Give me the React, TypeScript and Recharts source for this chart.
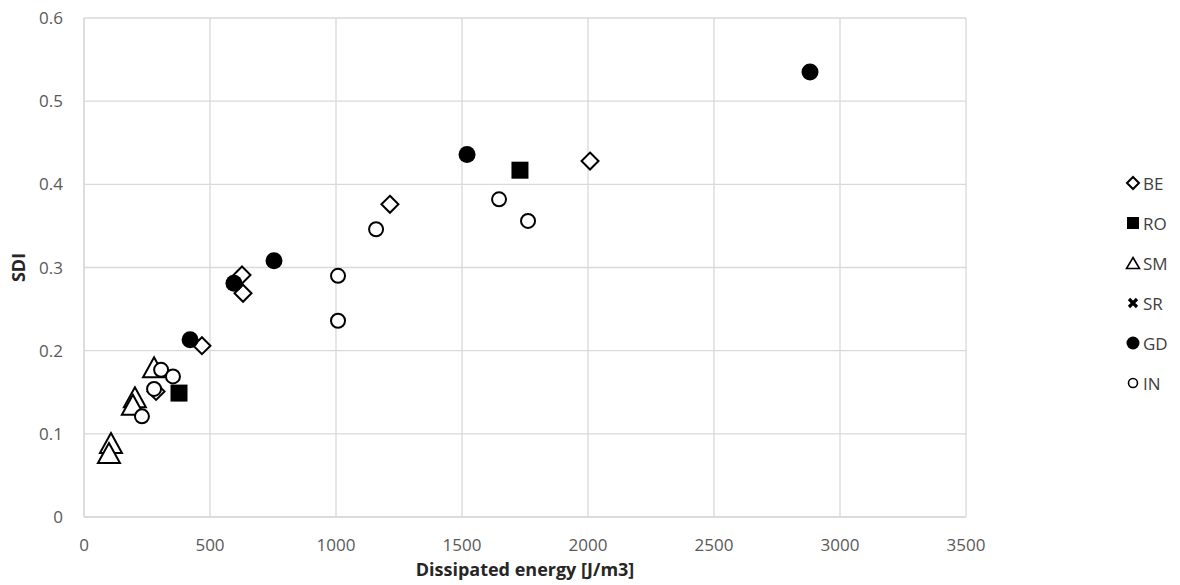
import React from 'react';
import {
  ScatterChart, Scatter, XAxis, YAxis, CartesianGrid, Legend, Label,
} from 'recharts';

// Series values (x = dissipated energy, y = SDI)
const BE = [
  { x: 286, y: 0.151 }, { x: 468, y: 0.206 }, { x: 627, y: 0.291 },
  { x: 631, y: 0.269 }, { x: 1214, y: 0.376 }, { x: 2008, y: 0.428 },
];
const RO = [{ x: 377, y: 0.149 }, { x: 1730, y: 0.417 }];
const SM = [
  { x: 278, y: 0.18 }, { x: 202, y: 0.144 }, { x: 194, y: 0.135 },
  { x: 107, y: 0.089 }, { x: 99, y: 0.077 },
];
const SR: { x: number; y: number }[] = [];
const GD = [
  { x: 421, y: 0.213 }, { x: 595, y: 0.281 }, { x: 754, y: 0.308 },
  { x: 1520, y: 0.436 }, { x: 2881, y: 0.535 },
];
const IN = [
  { x: 230, y: 0.121 }, { x: 278, y: 0.154 }, { x: 306, y: 0.177 },
  { x: 353, y: 0.169 }, { x: 1008, y: 0.236 }, { x: 1008, y: 0.29 },
  { x: 1159, y: 0.346 }, { x: 1647, y: 0.382 }, { x: 1762, y: 0.356 },
];

const X_TICKS = [0, 500, 1000, 1500, 2000, 2500, 3000, 3500];
const Y_TICKS = [0, 0.1, 0.2, 0.3, 0.4, 0.5, 0.6];
const SERIES_NAMES = ['BE', 'RO', 'SM', 'SR', 'GD', 'IN'];

const FONT = '"Open Sans", "Noto Sans", sans-serif';
const TEXT = '#595959';
const TITLE = '#262626';
const GRID = '#d9d9d9';

const diamond = (cx: number, cy: number, r: number, sw = 2) => (
  <path d={`M${cx},${cy - r}L${cx + r},${cy}L${cx},${cy + r}L${cx - r},${cy}Z`}
    fill="#fff" stroke="#000" strokeWidth={sw} />
);
const square = (cx: number, cy: number, s: number) => (
  <rect x={cx - s / 2} y={cy - s / 2} width={s} height={s} fill="#000" />
);
const triangle = (cx: number, cy: number, w: number, h: number, sw = 2) => (
  <path d={`M${cx},${cy - h / 2}L${cx + w / 2},${cy + h / 2}L${cx - w / 2},${cy + h / 2}Z`}
    fill="#fff" stroke="#000" strokeWidth={sw} strokeLinejoin="miter" />
);
const cross = (cx: number, cy: number, r: number) => (
  <path d={`M${cx - r},${cy - r}L${cx + r},${cy + r}M${cx + r},${cy - r}L${cx - r},${cy + r}`}
    stroke="#000" strokeWidth={3.2} />
);
const dot = (cx: number, cy: number, r: number) => <circle cx={cx} cy={cy} r={r} fill="#000" />;
const ring = (cx: number, cy: number, r: number, sw = 2) => (
  <circle cx={cx} cy={cy} r={r} fill="#fff" stroke="#000" strokeWidth={sw} />
);

const SHAPES: Record<string, (cx: number, cy: number) => React.ReactElement> = {
  BE: (cx, cy) => diamond(cx, cy, 8.5),
  RO: (cx, cy) => square(cx, cy, 17),
  SM: (cx, cy) => triangle(cx, cy, 22, 20),
  SR: (cx, cy) => cross(cx, cy, 5),
  GD: (cx, cy) => dot(cx, cy, 8.5),
  IN: (cx, cy) => ring(cx, cy, 7),
};

const LEGEND_ICONS: Record<string, React.ReactElement> = {
  BE: diamond(9, 10, 6, 2),
  RO: square(9, 10, 12),
  SM: triangle(9, 10, 13, 11, 1.6),
  SR: cross(9, 10, 4),
  GD: dot(9, 10, 6.5),
  IN: ring(9, 10, 4.5, 1.6),
};

const renderLegend = () => (
  <div style={{ fontFamily: FONT, fontSize: 17, color: '#404040' }}>
    {SERIES_NAMES.map((name) => (
      <div key={name} style={{ height: 40, display: 'flex', alignItems: 'center' }}>
        <svg width={18} height={20}>{LEGEND_ICONS[name]}</svg>
        <span style={{ marginLeft: 1 }}>{name}</span>
      </div>
    ))}
  </div>
);

const seriesData: Record<string, { x: number; y: number }[]> = { BE, RO, SM, SR, GD, IN };

export default function App() {
  return (
    <div style={{ position: 'absolute', left: 0, top: 0, width: 1180, height: 585, background: '#fff' }}>
      <ScatterChart width={1180} height={585} margin={{ top: 18, right: 214, bottom: 0, left: 0 }}>
        <CartesianGrid stroke={GRID} strokeWidth={1.3} />
        <XAxis
          type="number"
          dataKey="x"
          domain={[0, 3500]}
          ticks={X_TICKS}
          height={68}
          tickLine={false}
          tickSize={0}
          tickMargin={22}
          axisLine={{ stroke: GRID, strokeWidth: 1.3 }}
          tick={{ fill: TEXT, fontSize: 17, fontFamily: FONT }}
        >
          <Label
            value="Dissipated energy [J/m3]"
            position="insideBottom"
            offset={9}
            style={{ fill: TITLE, fontSize: 18, fontWeight: 700, fontFamily: FONT }}
          />
        </XAxis>
        <YAxis
          type="number"
          dataKey="y"
          domain={[0, 0.6]}
          ticks={Y_TICKS}
          width={84}
          tickLine={false}
          tickSize={0}
          tickMargin={21}
          axisLine={{ stroke: GRID, strokeWidth: 1.3 }}
          tick={{ fill: TEXT, fontSize: 17, fontFamily: FONT }}
        >
          <Label
            content={({ viewBox }: any) => {
              const cy = viewBox.y + viewBox.height / 2;
              return (
                <text
                  x={18}
                  y={cy}
                  transform={`rotate(-90, 18, ${cy})`}
                  textAnchor="middle"
                  dominantBaseline="central"
                  fill={TITLE}
                  fontSize={18}
                  fontWeight={700}
                  fontFamily={FONT}
                >
                  SDI
                </text>
              );
            }}
          />
        </YAxis>
        <Legend
          layout="vertical"
          align="center"
          verticalAlign="middle"
          content={renderLegend}
          wrapperStyle={{ left: 1124, top: 163, width: 60 }}
        />
        {SERIES_NAMES.map((name) => (
          <Scatter
            key={name}
            name={name}
            data={seriesData[name]}
            isAnimationActive={false}
            shape={(p: any) => SHAPES[name](p.cx, p.cy)}
          />
        ))}
      </ScatterChart>
    </div>
  );
}
